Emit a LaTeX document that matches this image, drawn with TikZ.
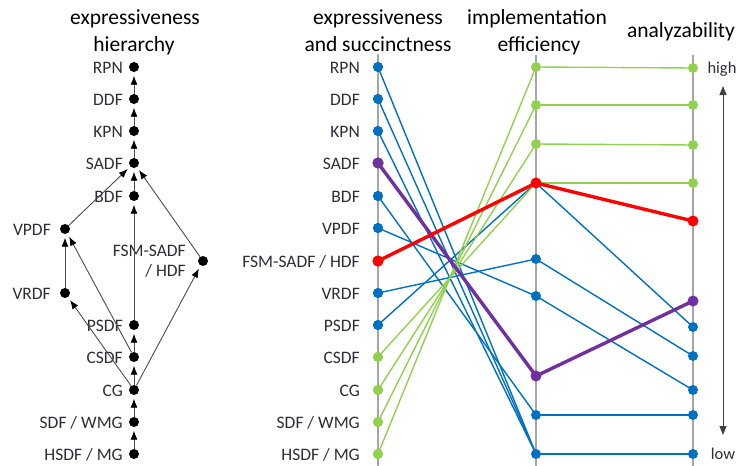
\documentclass[tikz,border=0pt]{standalone}
\usepackage{fontspec}
\setmainfont{Carlito}
\usetikzlibrary{arrows.meta}
\definecolor{cblue}{RGB}{0,112,192}
\definecolor{cgreen}{RGB}{146,208,80}
\definecolor{cred}{RGB}{255,0,0}
\definecolor{cpurple}{RGB}{112,48,160}
\definecolor{caxis}{RGB}{166,166,166}
\definecolor{ctext}{RGB}{45,45,55}
\begin{document}
\begin{tikzpicture}[x=1pt,y=-1pt,
  bdot/.style={circle,fill=black,inner sep=0pt,minimum size=10pt},
  cdot/.style={circle,fill=#1,inner sep=0pt,minimum size=10pt},
  lab/.style={font=\fontsize{17.5}{20}\selectfont,text=ctext,inner sep=0pt,anchor=base east},
  hdr/.style={font=\fontsize{21.5}{27}\selectfont,inner sep=0pt,anchor=base},
  harr/.style={draw=black!70,line width=0.9pt,-{Latex[length=9pt,width=7pt,black]},shorten >=3.5pt},
  axisline/.style={draw=caxis,line width=2pt},
  conn/.style={line width=1.4pt,draw=#1},
  boldconn/.style={line width=3.4pt,draw=#1},
  scalearr/.style={draw=black!75,line width=0.9pt,{Triangle[length=9pt,width=7pt]}-{Triangle[length=9pt,width=7pt]}},
  hl/.style={font=\fontsize{16.5}{19}\selectfont,text=ctext,inner sep=0pt,anchor=base}
]
\useasboundingbox (0,0) rectangle (740,466);

% ---------- headers ----------
\node[hdr] (h1a) at (135,24) {expressiveness};
\node[hdr] (h1b) at (134,51) {hierarchy};
\node[hdr] (h2a) at (378,24) {expressiveness};
\node[hdr] (h2b) at (378,51) {and succinctness};
\node[hdr] (h3a) at (537,24) {implementation};
\node[hdr] (h3b) at (539,51) {efficiency};
\node[hdr] (h4) at (681,37) {analyzability};

% ---------- left panel: hierarchy ----------
\node[bdot] (lRPN) at (134,67) {};
\node[bdot] (lDDF) at (134,99) {};
\node[bdot] (lKPN) at (134,131) {};
\node[bdot] (lSADF) at (134,163) {};
\node[bdot] (lBDF) at (134,196) {};
\node[bdot] (lVPDF) at (65,229) {};
\node[bdot] (lFSM) at (203,261) {};
\node[bdot] (lVRDF) at (65,293) {};
\node[bdot] (lPSDF) at (134,325) {};
\node[bdot] (lCSDF) at (134,357) {};
\node[bdot] (lCG) at (134,390) {};
\node[bdot] (lSDF) at (134,422) {};
\node[bdot] (lHSDF) at (134,454) {};

\node[lab] (tlRPN) at (123,73) {RPN};
\node[lab] (tlDDF) at (123,105) {DDF};
\node[lab] (tlKPN) at (123,137) {KPN};
\node[lab] (tlSADF) at (123,169) {SADF};
\node[lab] (tlBDF) at (123,202) {BDF};
\node[lab] (tlVPDF) at (51,235) {VPDF};
\node[lab] (tlFSMa) at (186,256) {FSM-SADF};
\node[lab] (tlFSMb) at (186,276) {/ HDF};
\node[lab] (tlVRDF) at (51,299) {VRDF};
\node[lab] (tlPSDF) at (123,331) {PSDF};
\node[lab] (tlCSDF) at (123,363) {CSDF};
\node[lab] (tlCG) at (123,396) {CG};
\node[lab] (tlSDF) at (123,428) {SDF / WMG};
\node[lab] (tlHSDF) at (123,460) {HSDF / MG};

\draw[harr] (lHSDF) -- (lSDF);
\draw[harr] (lSDF) -- (lCG);
\draw[harr] (lCG) -- (lCSDF);
\draw[harr] (lCSDF) -- (lPSDF);
\draw[harr] (lPSDF) -- (lBDF);
\draw[harr] (lBDF) -- (lSADF);
\draw[harr] (lSADF) -- (lKPN);
\draw[harr] (lKPN) -- (lDDF);
\draw[harr] (lDDF) -- (lRPN);
\draw[harr] (lVPDF) -- (lSADF);
\draw[harr] (lFSM) -- (lSADF);
\draw[harr] (lVRDF) -- (lVPDF);
\draw[harr] (lCG) -- (lVRDF);
\draw[harr] (lCSDF) -- (lVPDF);
\draw[harr] (lCG) -- (lFSM);

% ---------- right panel: axes ----------
\coordinate (ax1t) at (378,54); \coordinate (ax1b) at (378,466);
\coordinate (ax2t) at (536,55); \coordinate (ax2b) at (536,466);
\coordinate (ax3t) at (693,55); \coordinate (ax3b) at (693,466);
\draw[axisline] (ax1t) -- (ax1b);
\draw[axisline] (ax2t) -- (ax2b);
\draw[axisline] (ax3t) -- (ax3b);

% axis 1 points
\node[cdot=cblue] (mRPN) at (378,67) {};
\node[cdot=cblue] (mDDF) at (378,99) {};
\node[cdot=cblue] (mKPN) at (378,131) {};
\node[cdot=cpurple,minimum size=11pt] (mSADF) at (378,163) {};
\node[cdot=cblue] (mBDF) at (378,196) {};
\node[cdot=cblue] (mVPDF) at (378,228) {};
\node[cdot=cred,minimum size=11pt] (mFSM) at (378,261) {};
\node[cdot=cblue] (mVRDF) at (378,293) {};
\node[cdot=cblue] (mPSDF) at (378,325) {};
\node[cdot=cgreen] (mCSDF) at (378,357) {};
\node[cdot=cgreen] (mCG) at (378,390) {};
\node[cdot=cgreen] (mSDF) at (378,422) {};
\node[cdot=cgreen] (mHSDF) at (378,454) {};

\node[lab] (tmRPN) at (360,73) {RPN};
\node[lab] (tmDDF) at (360,105) {DDF};
\node[lab] (tmKPN) at (360,137) {KPN};
\node[lab] (tmSADF) at (360,169) {SADF};
\node[lab] (tmBDF) at (360,202) {BDF};
\node[lab] (tmVPDF) at (360,234) {VPDF};
\node[lab] (tmFSM) at (360,267) {FSM-SADF / HDF};
\node[lab] (tmVRDF) at (360,299) {VRDF};
\node[lab] (tmPSDF) at (360,331) {PSDF};
\node[lab] (tmCSDF) at (360,363) {CSDF};
\node[lab] (tmCG) at (360,396) {CG};
\node[lab] (tmSDF) at (360,428) {SDF / WMG};
\node[lab] (tmHSDF) at (360,460) {HSDF / MG};

% axis 2 points
\coordinate (E1) at (536,67);
\coordinate (E2) at (536,105);
\coordinate (E3) at (536,144);
\coordinate (E4) at (536,183);
\coordinate (E5) at (536,259);
\coordinate (E6) at (536,296);
\coordinate (E7) at (536,376);
\coordinate (E8) at (536,415);
\coordinate (E9) at (536,454);
% axis 3 points
\coordinate (A1) at (693,68);
\coordinate (A2) at (693,105);
\coordinate (A3) at (693,145);
\coordinate (A4) at (693,183);
\coordinate (A5) at (693,221);
\coordinate (A6) at (693,301);
\coordinate (A7) at (693,327);
\coordinate (A8) at (693,356);
\coordinate (A9) at (693,390);
\coordinate (A10) at (693,415);
\coordinate (A11) at (693,454);

% blue connectors
\draw[conn=cblue] (mRPN.center) -- (E9);
\draw[conn=cblue] (mDDF.center) -- (E9);
\draw[conn=cblue] (mKPN.center) -- (E9);
\draw[conn=cblue] (mBDF.center) -- (E8);
\draw[conn=cblue] (mVPDF.center) -- (E6);
\draw[conn=cblue] (mVRDF.center) -- (E5);
\draw[conn=cblue] (mPSDF.center) -- (E4);
\draw[conn=cblue] (E4) -- (A7);
\draw[conn=cblue] (E5) -- (A8);
\draw[conn=cblue] (E6) -- (A9);
\draw[conn=cblue] (E8) -- (A10);
\draw[conn=cblue] (E9) -- (A11);
% green connectors
\draw[conn=cgreen] (mHSDF.center) -- (E1);
\draw[conn=cgreen] (mSDF.center) -- (E2);
\draw[conn=cgreen] (mCG.center) -- (E3);
\draw[conn=cgreen] (mCSDF.center) -- (E4);
\draw[conn=cgreen] (E1) -- (A1);
\draw[conn=cgreen] (E2) -- (A2);
\draw[conn=cgreen] (E3) -- (A3);
\draw[conn=cgreen] (E4) -- (A4);
% purple and red
\draw[boldconn=cpurple] (mSADF.center) -- (E7) -- (A6);
\draw[boldconn=cred] (mFSM.center) -- (E4) -- (A5);

% redraw axis-1 dots on top
\node[cdot=cblue] (mRPNd) at (mRPN) {};
\node[cdot=cblue] (mDDFd) at (mDDF) {};
\node[cdot=cblue] (mKPNd) at (mKPN) {};
\node[cdot=cpurple,minimum size=11pt] (mSADFd) at (mSADF) {};
\node[cdot=cblue] (mBDFd) at (mBDF) {};
\node[cdot=cblue] (mVPDFd) at (mVPDF) {};
\node[cdot=cred,minimum size=11pt] (mFSMd) at (mFSM) {};
\node[cdot=cblue] (mVRDFd) at (mVRDF) {};
\node[cdot=cblue] (mPSDFd) at (mPSDF) {};
\node[cdot=cgreen] (mCSDFd) at (mCSDF) {};
\node[cdot=cgreen] (mCGd) at (mCG) {};
\node[cdot=cgreen] (mSDFd) at (mSDF) {};
\node[cdot=cgreen] (mHSDFd) at (mHSDF) {};

% axis 2 dots
\node[cdot=cgreen] (dE1) at (E1) {};
\node[cdot=cgreen] (dE2) at (E2) {};
\node[cdot=cgreen] (dE3) at (E3) {};
\node[cdot=cred,minimum size=11pt] (dE4) at (E4) {};
\node[cdot=cblue] (dE5) at (E5) {};
\node[cdot=cblue] (dE6) at (E6) {};
\node[cdot=cpurple,minimum size=11pt] (dE7) at (E7) {};
\node[cdot=cblue] (dE8) at (E8) {};
\node[cdot=cblue] (dE9) at (E9) {};
% axis 3 dots
\node[cdot=cgreen] (dA1) at (A1) {};
\node[cdot=cgreen] (dA2) at (A2) {};
\node[cdot=cgreen] (dA3) at (A3) {};
\node[cdot=cgreen] (dA4) at (A4) {};
\node[cdot=cred,minimum size=11pt] (dA5) at (A5) {};
\node[cdot=cpurple,minimum size=11pt] (dA6) at (A6) {};
\node[cdot=cblue] (dA7) at (A7) {};
\node[cdot=cblue] (dA8) at (A8) {};
\node[cdot=cblue] (dA9) at (A9) {};
\node[cdot=cblue] (dA10) at (A10) {};
\node[cdot=cblue] (dA11) at (A11) {};

% scale arrow
\coordinate (scT) at (723,86);
\coordinate (scB) at (723,435);
\draw[scalearr] (scT) -- (scB);
\node[hl] (thigh) at (722,73) {high};
\node[hl] (tlow) at (723,459) {low};
\end{tikzpicture}
\end{document}
